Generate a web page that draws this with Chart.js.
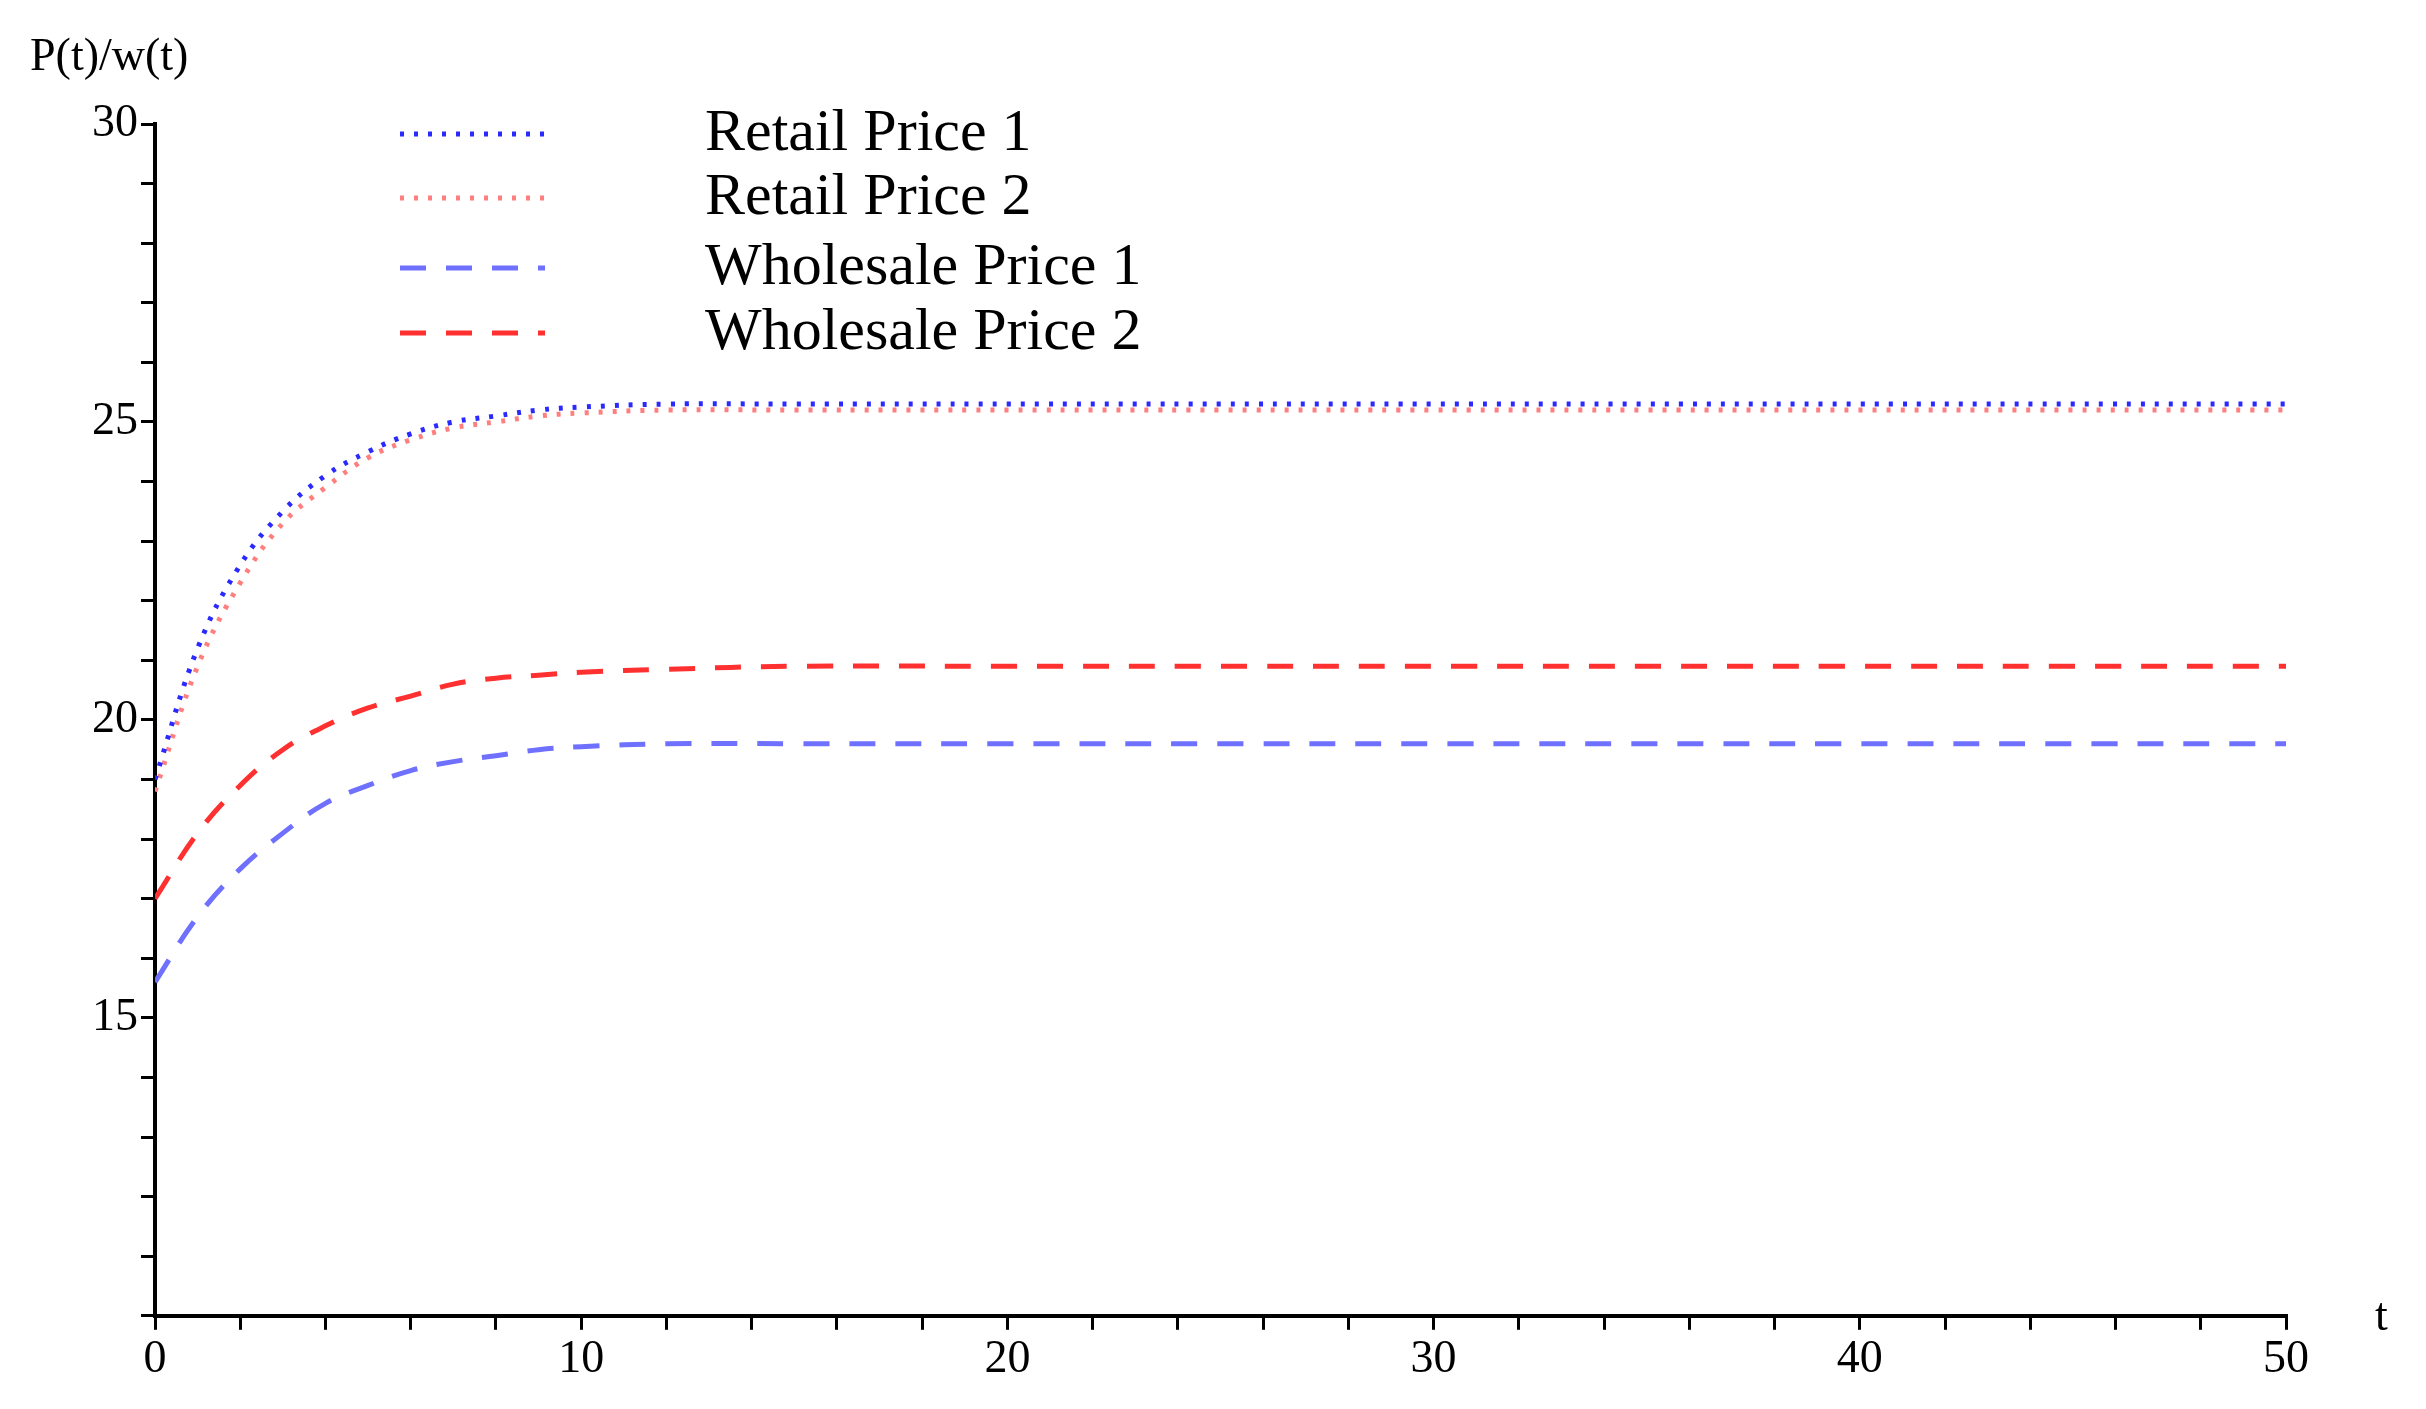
<!DOCTYPE html>
<html><head><meta charset="utf-8">
<script src="https://cdn.jsdelivr.net/npm/chart.js@4"></script>
<style>html,body{margin:0;background:#fff}</style></head>
<body><canvas id="c" width="2426" height="1409"></canvas>
<script>
const tValues = [0,1,2,3,4,5,6,7,8,9,10,12,15,20,25,30,35,40,45,50];
const retail1 = [19.0,21.2,22.6,23.5,24.1,24.5,24.8,25.0,25.1,25.2,25.25,25.3,25.3,25.3,25.3,25.3,25.3,25.3,25.3,25.3];
const retail2 = [18.8,20.9,22.3,23.3,23.9,24.4,24.7,24.9,25.0,25.1,25.15,25.2,25.2,25.2,25.2,25.2,25.2,25.2,25.2,25.2];
const wholesale1 = [15.6,16.7,17.5,18.1,18.6,18.9,19.15,19.3,19.4,19.5,19.55,19.6,19.6,19.6,19.6,19.6,19.6,19.6,19.6,19.6];
const wholesale2 = [17.0,18.1,18.9,19.5,19.9,20.2,20.4,20.6,20.7,20.75,20.8,20.85,20.9,20.9,20.9,20.9,20.9,20.9,20.9,20.9];
const seriesNames = ["Retail Price 1","Retail Price 2","Wholesale Price 1","Wholesale Price 2"];
const xTickLabels = [0,10,20,30,40,50];
const yTickLabels = [15,20,25,30];

const pts = a => a.map((v,i)=>({x:tValues[i],y:v}));
const styles = [
  {c:'#2a2aff',d:[4,10]},{c:'#ff7f7f',d:[4,10]},{c:'#7070ff',d:[26,20]},{c:'#ff3030',d:[26,20]}
];
const sets=[retail1,retail2,wholesale1,wholesale2].map((a,i)=>({label:seriesNames[i],data:pts(a),borderColor:styles[i].c,borderDash:styles[i].d,borderWidth:5,pointRadius:0,tension:0.4,fill:false}));
const FONT='"Liberation Serif", serif';
const deco={id:'deco',afterDraw(ch){
  const g=ch.ctx;g.save();
  g.fillStyle='#000';g.font='46px '+FONT;g.textBaseline='middle';
  g.fillText('P(t)/w(t)',30,58);
  g.fillText('t',2375,1318);
  g.font='60px '+FONT;
  const ys=[134,198,268,333];
  ys.forEach((y,i)=>{
    g.strokeStyle=styles[i].c;g.lineWidth=5;g.setLineDash(styles[i].d);
    g.beginPath();g.moveTo(400,y);g.lineTo(545,y);g.stroke();
    g.fillText(seriesNames[i],705,y);
  });
  g.restore();
}};
new Chart(document.getElementById('c'),{type:'line',data:{datasets:sets},
options:{responsive:false,animation:false,
layout:{padding:{top:124,left:89,right:140,bottom:18}},
plugins:{legend:{display:false},tooltip:{enabled:false}},
scales:{
 x:{type:'linear',min:0,max:50,border:{color:'#000',width:4},
   grid:{drawOnChartArea:false,color:'#000',lineWidth:3,tickLength:14},
   ticks:{stepSize:2,color:'#000',font:{size:46,family:FONT},autoSkip:false,maxRotation:0,
     callback:v=>xTickLabels.includes(v)?String(v):''}},
 y:{min:10,max:30,border:{color:'#000',width:4},
   grid:{drawOnChartArea:false,color:'#000',lineWidth:3,tickLength:14},
   ticks:{stepSize:1,color:'#000',font:{size:46,family:FONT},autoSkip:false,
     callback:v=>yTickLabels.includes(v)?String(v):''}}
}},plugins:[deco]});
</script></body></html>
